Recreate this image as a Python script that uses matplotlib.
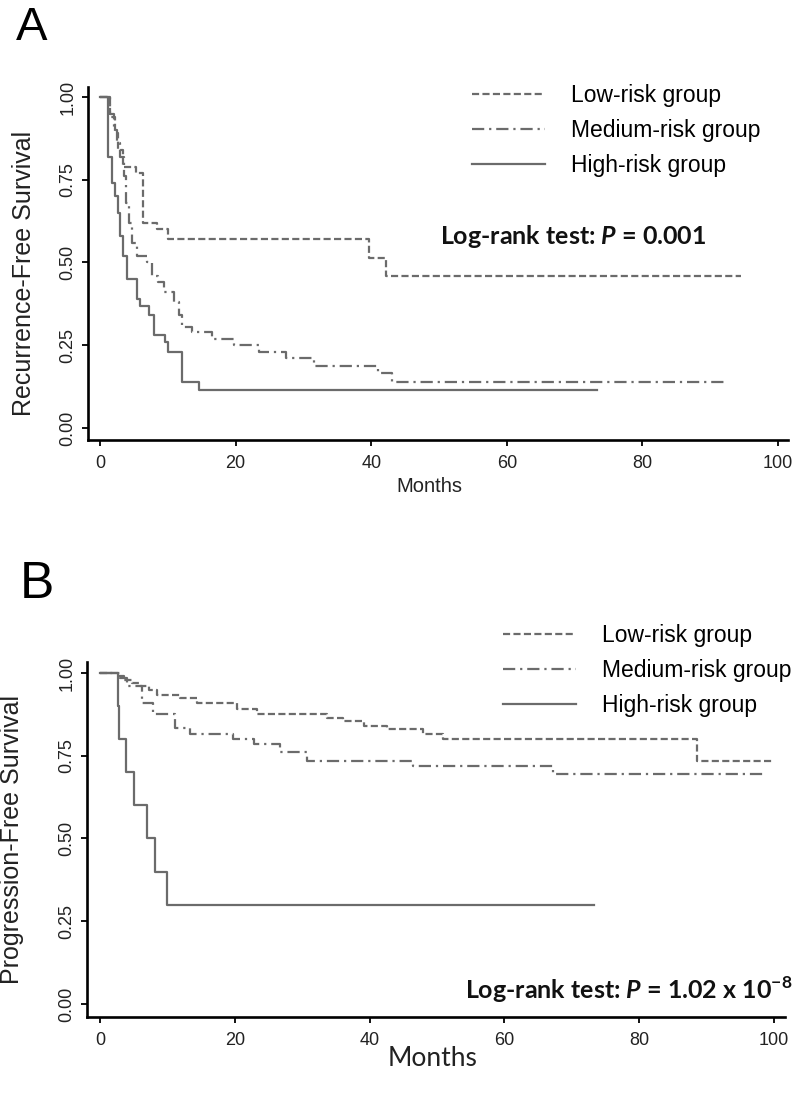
"""Kaplan-Meier style step curves for the three risk groups (panels A and B)."""

import matplotlib

matplotlib.use("Agg")
import matplotlib.pyplot as plt

plt.rcParams["mathtext.fontset"] = "custom"
plt.rcParams["mathtext.bf"] = "Lato:bold"
plt.rcParams["mathtext.bfit"] = "Lato:bold:italic"
plt.rcParams["mathtext.rm"] = "Lato:bold"

# ---- panel A: recurrence-free survival (months, survival) ----
A_LOW_T = [0, 1.5, 2.2, 2.7, 3.4, 5.3, 6.4, 8.4, 10.1, 39.7, 42.2, 94.5]
A_LOW_S = [1.0, 0.94, 0.89, 0.84, 0.79, 0.77, 0.62, 0.60, 0.57, 0.515, 0.46, 0.46]

A_MED_T = [0, 1.5, 2.0, 2.5, 3.0, 3.5, 3.9, 4.3, 4.7, 5.4, 6.9, 7.7, 8.6, 9.4,
           10.9, 11.6, 12.1, 13.6, 16.5, 19.8, 23.5, 27.5, 31.5, 41.0, 43.0, 92.0]
A_MED_S = [1.0, 0.95, 0.90, 0.86, 0.82, 0.76, 0.68, 0.62, 0.56, 0.52, 0.50, 0.46, 0.44, 0.41,
           0.38, 0.34, 0.305, 0.29, 0.27, 0.25, 0.23, 0.21, 0.187, 0.165, 0.14, 0.14]

A_HIGH_T = [0, 1.2, 1.7, 2.2, 2.6, 3.0, 3.4, 4.0, 5.4, 5.9, 7.2, 7.9, 9.6, 10.1, 12.1, 14.6, 73.3]
A_HIGH_S = [1.0, 0.82, 0.74, 0.70, 0.65, 0.58, 0.52, 0.45, 0.39, 0.37, 0.34, 0.28, 0.26, 0.23,
            0.14, 0.115, 0.115]

# ---- panel B: progression-free survival ----
B_LOW_T = [0, 2.5, 3.5, 4.7, 5.9, 7.2, 8.4, 11.9, 14.4, 20.3, 23.3, 33.7, 36.1, 39.1,
           42.6, 47.9, 50.9, 88.6, 99.7]
B_LOW_S = [1.0, 0.99, 0.98, 0.97, 0.96, 0.95, 0.935, 0.925, 0.91, 0.89, 0.875, 0.865, 0.855,
           0.84, 0.83, 0.815, 0.80, 0.735, 0.735]

B_MED_T = [0, 3.0, 4.0, 6.2, 7.9, 11.1, 13.4, 19.8, 22.8, 26.7, 30.7, 46.4, 67.2, 98.4]
B_MED_S = [1.0, 0.985, 0.96, 0.91, 0.875, 0.835, 0.815, 0.80, 0.785, 0.76, 0.735, 0.72,
           0.695, 0.695]

B_HIGH_T = [0, 2.6, 2.8, 3.9, 5.0, 6.9, 8.2, 9.9, 73.3]
B_HIGH_S = [1.0, 0.9, 0.8, 0.7, 0.6, 0.5, 0.4, 0.3, 0.3]

GROUPS = ["Low-risk group", "Medium-risk group", "High-risk group"]
X_TICKS = [0, 20, 40, 60, 80, 100]
Y_TICKS = [0, 0.25, 0.5, 0.75, 1.0]
Y_LABELS = ["0.00", "0.25", "0.50", "0.75", "1.00"]

LINE_COLOR = "#6b6b6b"
STYLES = [(0, (3.2, 1.5)), (0, (5.5, 2.2, 1.0, 2.2)), "-"]
W, H = 800, 1120


def fx(px):
    return px / W


def fy(py):
    return 1 - py / H


def style_axes(ax):
    for side in ("top", "right"):
        ax.spines[side].set_visible(False)
    for side in ("left", "bottom"):
        ax.spines[side].set_linewidth(1.9)
    ax.set_xticks(X_TICKS)
    ax.set_yticks(Y_TICKS)
    ax.set_yticklabels(Y_LABELS)
    ax.tick_params(axis="both", direction="out", length=4.5, width=1.3,
                   labelsize=13, labelcolor="#222222")
    ax.tick_params(axis="x", pad=6)
    ax.tick_params(axis="y", pad=4, labelrotation=90)
    for lab in ax.get_yticklabels():
        lab.set_va("center")
    ax.patch.set_visible(False)


def draw_curves(ax, series):
    lines = []
    for (t, s), ls, name in zip(series, STYLES, GROUPS):
        ln, = ax.step(t, s, where="post", color=LINE_COLOR, lw=1.6,
                      linestyle=ls, label=name)
        lines.append(ln)
    return lines


def add_legend(ax, handles, left_px, top_px):
    ax.legend(handles=handles, loc="upper left",
              bbox_to_anchor=(fx(left_px), fy(top_px)),
              bbox_transform=fig.transFigure, frameon=False, fontsize=16.5,
              handlelength=3.2, handletextpad=1.1, labelspacing=0.52,
              borderpad=0, borderaxespad=0)


plt.rcParams["font.family"] = ["Liberation Sans", "DejaVu Sans"]
fig = plt.figure(figsize=(8, 11.2), dpi=100)

# panel A
axA = fig.add_axes([fx(88), fy(440), fx(700), 353 / H])
axA.set_xlim(-1.77, 101.47)
axA.set_ylim(-0.0363, 1.0302)
linesA = draw_curves(axA, [(A_LOW_T, A_LOW_S), (A_MED_T, A_MED_S), (A_HIGH_T, A_HIGH_S)])
style_axes(axA)
add_legend(axA, linesA, 472, 84)

# panel B
axB = fig.add_axes([fx(87), fy(1017), fx(698), 355 / H])
axB.set_xlim(-1.93, 101.63)
axB.set_ylim(-0.0393, 1.0332)
linesB = draw_curves(axB, [(B_LOW_T, B_LOW_S), (B_MED_T, B_MED_S), (B_HIGH_T, B_HIGH_S)])
style_axes(axB)
add_legend(axB, linesB, 503, 624)

# panel letters
fig.text(fx(16), fy(40), "A", fontsize=34, va="baseline", ha="left")
fig.text(fx(20), fy(598), "B", fontsize=37, va="baseline", ha="left")

# axis titles
fig.text(fx(24), fy(273), "Recurrence-Free Survival", rotation=90,
         ha="center", va="center", fontsize=18, color="#222222")
fig.text(fx(12), fy(840), "Progression-Free Survival", rotation=90,
         ha="center", va="center", fontsize=18, color="#222222")
fig.text(fx(429), fy(487), "Months", ha="center", va="center", fontsize=14.5,
         color="#222222")
fig.text(fx(433), fy(1059), "Months", ha="center", va="center", fontsize=19,
         family="Lato", color="#222222")

# log-rank annotations
fig.text(fx(440), fy(237), r"Log-rank test: $\mathbfit{P}$ = 0.001", ha="left",
         va="center", fontsize=18, family="Lato", weight="bold", color="#111111")
fig.text(fx(792), fy(990), r"Log-rank test: $\mathbfit{P}$ = 1.02 x 10$^{\mathbf{-8}}$",
         ha="right", va="center", fontsize=18, family="Lato", weight="bold",
         color="#111111")

fig.savefig("out.png", dpi=100)
